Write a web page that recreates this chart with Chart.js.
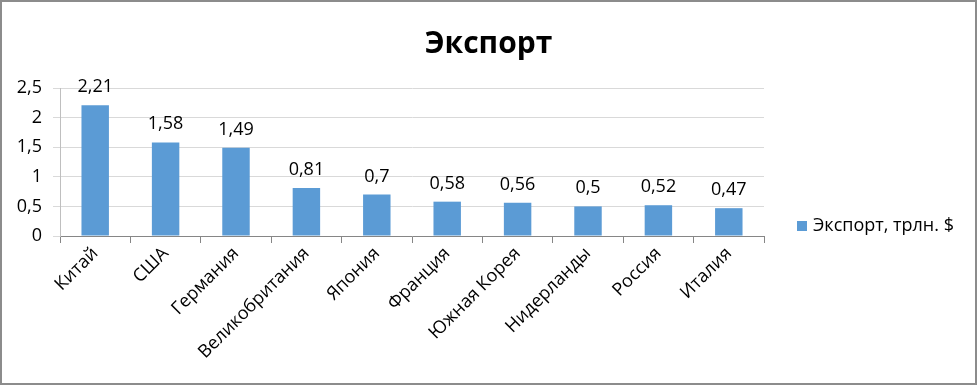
<!DOCTYPE html>
<html>
<head>
<meta charset="utf-8">
<script src="https://cdn.jsdelivr.net/npm/chart.js@4/dist/chart.umd.min.js"></script>
<style>
  html, body { margin: 0; padding: 0; background: #fff; }
  #wrap { width: 977px; height: 385px; box-sizing: border-box; border: 2px solid #8c8c8c; background: #fff; }
</style>
</head>
<body>
<div id="wrap"><canvas id="chart_export" width="973" height="381"></canvas></div>
<script>
var countries = ['Китай', 'США', 'Германия', 'Великобритания', 'Япония', 'Франция', 'Южная Корея', 'Нидерланды', 'Россия', 'Италия'];
var exportValues = [2.21, 1.58, 1.49, 0.81, 0.7, 0.58, 0.56, 0.5, 0.52, 0.47];
var yTicks = [0, 0.5, 1, 1.5, 2, 2.5];
var seriesName = 'Экспорт, трлн. $';
var barColor = '#5b9bd5';

function fmt(v) {
    return String(v).replace('.', ',');
}

Chart.defaults.font.family = '"Open Sans", sans-serif';
Chart.defaults.color = '#000';

var chart_export = new Chart(document.getElementById('chart_export'), {
    type: 'bar',
    data: {
        labels: countries,
        datasets: [
            {
                label: seriesName,
                data: exportValues,
                backgroundColor: barColor,
                borderWidth: 0,
                categoryPercentage: 1,
                barPercentage: 0.39
            }
        ]
    },
    options: {
        animation: false,
        responsive: false,
        layout: {
            padding: { left: 0, top: 0, right: 211, bottom: 0 }
        },
        plugins: {
            legend: { display: false },
            tooltip: { enabled: false },
            title: {
                display: true,
                text: 'Экспорт',
                color: '#000',
                font: { size: 30, weight: 'bold' },
                padding: { top: 24, bottom: 26 }
            }
        },
        scales: {
            x: {
                offset: true,
                grid: {
                    display: true,
                    drawOnChartArea: false,
                    drawTicks: true,
                    tickLength: 7,
                    color: '#868686',
                    offset: true
                },
                border: { color: '#868686' },
                ticks: {
                    minRotation: 45,
                    maxRotation: 45,
                    autoSkip: false,
                    padding: 0,
                    font: { size: 18 }
                },
                afterFit: function (scale) { scale.height = 147; }
            },
            y: {
                min: 0,
                max: 2.5,
                afterBuildTicks: function (scale) {
                    scale.ticks = yTicks.map(function (v) { return { value: v }; });
                },
                grid: {
                    color: '#d9d9d9',
                    tickLength: 7,
                    drawTicks: true
                },
                border: { color: '#bfbfbf' },
                ticks: {
                    padding: 11,
                    font: { size: 18 },
                    callback: function (v) { return fmt(v); }
                },
                afterFit: function (scale) { scale.width = 58; }
            }
        }
    },
    plugins: [{
        // title spans the whole canvas, not only the part left of the legend
        id: 'wideTitle',
        afterLayout: function (chart) {
            var t = chart.titleBlock;
            t.left = 0;
            t.right = chart.width;
            t.width = chart.width;
        }
    }, {
        id: 'valueLabels',
        afterDatasetsDraw: function (chart) {
            var ctx = chart.ctx;
            var meta = chart.getDatasetMeta(0);
            ctx.save();
            ctx.fillStyle = '#000';
            ctx.font = '18px "Open Sans", sans-serif';
            ctx.textAlign = 'center';
            ctx.textBaseline = 'alphabetic';
            meta.data.forEach(function (bar, i) {
                ctx.fillText(fmt(chart.data.datasets[0].data[i]), bar.x, bar.y - 13);
            });
            ctx.restore();
        }
    }, {
        id: 'sideLegend',
        afterDraw: function (chart) {
            var ctx = chart.ctx;
            var ds = chart.data.datasets[0];
            var x = chart.chartArea.right + 33;
            var y = 224;
            ctx.save();
            ctx.fillStyle = ds.backgroundColor;
            ctx.fillRect(x, y - 5, 10, 10);
            ctx.fillStyle = '#000';
            ctx.font = '18px "Open Sans", sans-serif';
            ctx.textAlign = 'left';
            ctx.textBaseline = 'middle';
            ctx.fillText(ds.label, x + 16, y);
            ctx.restore();
        }
    }]
});
</script>
</body>
</html>
